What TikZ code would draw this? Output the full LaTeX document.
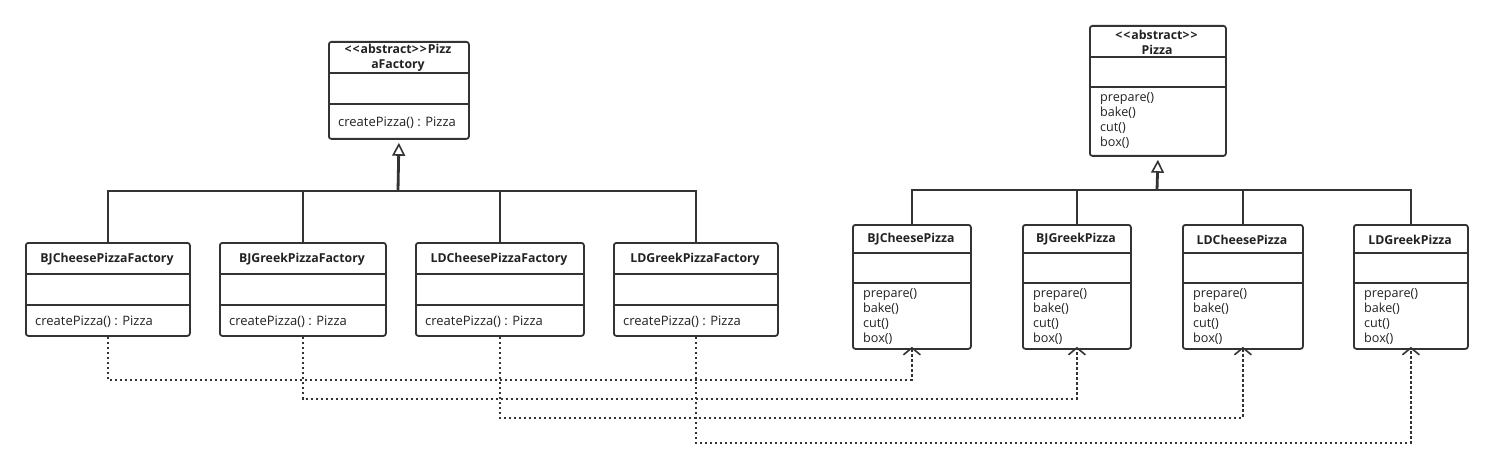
\documentclass[tikz,border=0pt]{standalone}
\usepackage{fontspec}
\setmainfont{Open Sans}
\usetikzlibrary{arrows.meta,calc}
\definecolor{ink}{HTML}{333333}
\definecolor{txt}{HTML}{222222}
\tikzset{
  classbox/.style={draw=ink, line width=1.8pt, rounded corners=2.5pt, fill=white, inner sep=0pt, anchor=north west},
  divider/.style={draw=ink, line width=1.5pt},
  titletxt/.style={font=\fontsize{12.3}{15}\selectfont\bfseries, text=txt, align=center, inner sep=0pt},
  methtxt/.style={font=\fontsize{13}{15}\selectfont, text=txt, align=left, anchor=west, inner sep=0pt},
  pmethtxt/.style={font=\fontsize{12.6}{15.2}\selectfont, text=txt, align=left, anchor=north west, inner sep=0pt},
  genline/.style={draw=ink, line width=1.8pt},
  genstem/.style={draw=ink, line width=2.8pt, -{Triangle[open, length=13pt, width=13pt, line width=1.6pt]}},
  depline/.style={draw=ink, line width=1.8pt, dash pattern=on 2.5pt off 2.5pt, -{Straight Barb[length=7pt, width=17pt, line width=1.6pt]}, shorten >=-3pt},
}
\newcommand\lt{\char"3C\kern1pt}
\newcommand\gt{\char"3E\kern1pt}
% #1 name, #2 left, #3 top, #4 right, #5 bottom, #6 div1, #7 div2, #8 title, #9 method
\newcommand\factbox[9]{%
  \node[classbox, minimum width={#4-#2}, minimum height={#5-#3}] (#1) at (#2,#3) {};
  \draw[divider] (#2,#6) -- (#4,#6);
  \draw[divider] (#2,#7) -- (#4,#7);
  \node[titletxt] (#1-t) at ({(#2+#4)/2},{(#3+#6)/2+1}) {#8};
  \node[methtxt] (#1-m) at ({#2+10},{(#7+#5)/2+1.5}) {#9};
}
\newcommand\pizbox[8]{%
  \node[classbox, minimum width={#4-#2}, minimum height={#5-#3}] (#1) at (#2,#3) {};
  \draw[divider] (#2,#6) -- (#4,#6);
  \draw[divider] (#2,#7) -- (#4,#7);
  \node[titletxt] (#1-t) at ({(#2+#4)/2},{(#3+#6)/2+1}) {#8};
  \node[pmethtxt] (#1-m) at ({#2+11},{#7+5}) {prepare()\\bake()\\cut()\\box()};
}
\begin{document}
\begin{tikzpicture}[x=1pt,y=-1pt]
\useasboundingbox[fill=white] (0,0) rectangle (1492,468);

% abstract factory
\factbox{pf}{328}{41}{468}{138}{73}{104}{\lt\lt abstract\gt\gt Pizz\\aFactory}{createPizza() : Pizza}
% factories
\factbox{bjcf}{25}{242}{189}{335}{274}{305}{BJCheesePizzaFactory}{createPizza() : Pizza}
\factbox{bjgf}{219}{242}{385}{335}{274}{305}{BJGreekPizzaFactory}{createPizza() : Pizza}
\factbox{ldcf}{415}{242}{583}{335}{274}{305}{LDCheesePizzaFactory}{createPizza() : Pizza}
\factbox{ldgf}{613}{242}{777}{335}{274}{305}{LDGreekPizzaFactory}{createPizza() : Pizza}

% abstract pizza
\pizbox{pz}{1089}{25}{1225}{155}{57}{87}{\lt\lt abstract\gt\gt\\Pizza}
% pizzas
\pizbox{bjcp}{852}{224}{970}{348}{253}{283}{BJCheesePizza}
\pizbox{bjgp}{1022}{224}{1130}{348}{253}{283}{BJGreekPizza}
\pizbox{ldcp}{1182}{224}{1302}{348}{253}{283}{LDCheesePizza}
\pizbox{ldgp}{1353}{224}{1467}{348}{253}{283}{LDGreekPizza}

% generalization, factories
\coordinate (jl) at (398,191);
\draw[genline] (bjcf.north) |- (jl);
\draw[genline] (ldgf.north) |- (jl);
\draw[genline] (bjgf.north) -- (bjgf.north |- jl);
\draw[genline] (ldcf.north) -- (ldcf.north |- jl);
\draw[genstem] (jl) -- ([yshift=-3pt]pf.south);

% generalization, pizzas
\coordinate (jr) at (1157,190);
\draw[genline] (bjcp.north) |- (jr);
\draw[genline] (ldgp.north) |- (jr);
\draw[genline] (bjgp.north) -- (bjgp.north |- jr);
\draw[genline] (ldcp.north) -- (ldcp.north |- jr);
\draw[genstem] (jr) -- ([yshift=-3pt]pz.south);

% dependencies
\draw[depline] (bjcf.south) -- ++(0,43) -| (bjcp.south);
\draw[depline] (bjgf.south) -- ++(0,62) -| (bjgp.south);
\draw[depline] (ldcf.south) -- ++(0,81) -| (ldcp.south);
\draw[depline] (ldgf.south) -- ++(0,106) -| (ldgp.south);
\end{tikzpicture}
\end{document}
